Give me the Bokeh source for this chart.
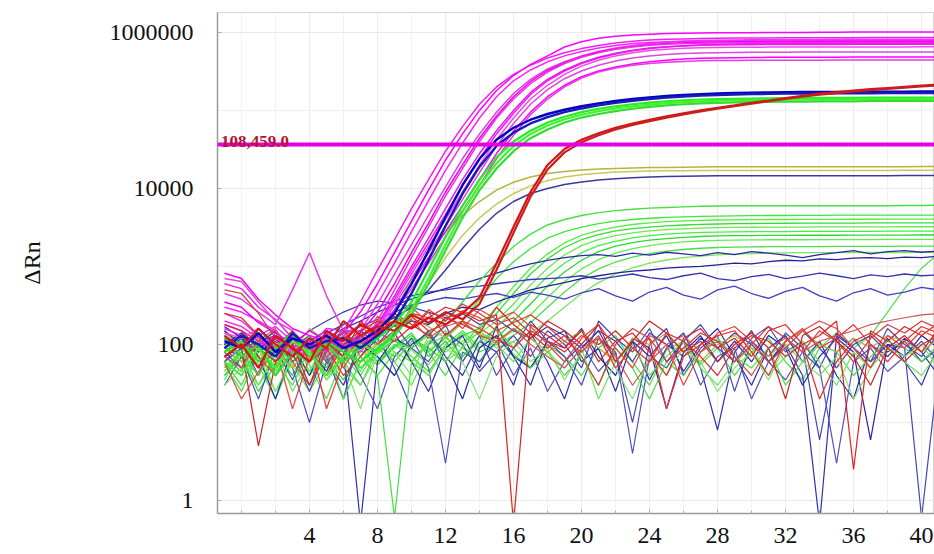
from bokeh.plotting import figure
from bokeh.models import Range1d, FixedTicker, NumeralTickFormatter, Label, Span
from bokeh.embed import file_html
from bokeh.resources import INLINE

# ---------------- data ----------------
cycles = list(range(-1, 42))          # cycle numbers of every point
x_tick_values = [4, 8, 12, 16, 20, 24, 28, 32, 36, 40]
x_minor_ticks = [0, 2, 4, 6, 8, 10, 12, 14, 16, 18, 20, 22, 24, 26, 28, 30, 32, 34, 36, 38, 40]
y_tick_values = [1, 100, 10000, 1000000]
y_minor_ticks = [10, 1000, 100000]
threshold_level = 36600
threshold_text = "108,459.0"
y_axis_title = "\u0394Rn"

magenta_curves = [
    [820, 700, 380, 240, 160, 130, 110, 140, 260, 600,
     1500, 3800, 9500, 23000, 50000, 100000, 180000, 280000, 390000, 500000,
     650000, 760000, 840000, 890000, 925000, 950000, 965000, 975000, 982000, 987000,
     990000, 993000, 995000, 1000000, 1000000, 1005000, 1005000, 1010000, 1010000, 1010000,
     1015000, 1015000, 1015000],
    [600, 520, 300, 210, 120, 95, 160, 150, 350, 900,
     2200, 5500, 13000, 30000, 62000, 120000, 200000, 290000, 380000, 470000,
     550000, 620000, 680000, 730000, 770000, 800000, 815000, 825000, 835000, 840000,
     845000, 848000, 850000, 852000, 853000, 855000, 856000, 857000, 858000, 858000,
     860000, 860000, 860000],
    [450, 380, 260, 180, 500, 1500, 420, 150, 150, 330,
     800, 1900, 4500, 10500, 24000, 50000, 95000, 165000, 250000, 340000,
     420000, 500000, 570000, 630000, 680000, 720000, 750000, 770000, 785000, 795000,
     800000, 805000, 808000, 810000, 812000, 814000, 815000, 816000, 817000, 818000,
     818000, 819000, 820000],
    [300, 260, 200, 150, 90, 120, 80, 130, 180, 450,
     1100, 2800, 7000, 17000, 38000, 80000, 150000, 240000, 330000, 420000,
     500000, 570000, 630000, 680000, 720000, 745000, 760000, 770000, 775000, 778000,
     780000, 780000, 780000, 780000, 780000, 780000, 781000, 781000, 781000, 782000,
     782000, 782000, 783000],
    [350, 300, 190, 140, 100, 150, 110, 90, 140, 260,
     600, 1500, 3600, 9000, 20000, 44000, 85000, 150000, 235000, 325000,
     410000, 490000, 560000, 615000, 660000, 695000, 720000, 738000, 748000, 754000,
     757000, 759000, 760000, 761000, 762000, 762000, 763000, 763000, 764000, 764000,
     764000, 765000, 765000],
    [250, 200, 130, 170, 110, 70, 140, 100, 90, 200,
     500, 1300, 3200, 8000, 18000, 40000, 80000, 140000, 220000, 310000,
     400000, 480000, 550000, 610000, 650000, 685000, 705000, 720000, 728000, 734000,
     737000, 739000, 740000, 741000, 742000, 742000, 743000, 743000, 744000, 744000,
     745000, 745000, 745000],
    [160, 130, 100, 120, 85, 70, 100, 120, 100, 170,
     380, 900, 2000, 4600, 11000, 24000, 50000, 92000, 160000, 240000,
     320000, 400000, 470000, 530000, 580000, 620000, 650000, 675000, 692000, 703000,
     710000, 714000, 717000, 719000, 720000, 721000, 722000, 722000, 723000, 723000,
     724000, 724000, 724000],
    [180, 150, 110, 90, 130, 100, 60, 90, 120, 180,
     420, 1000, 2300, 5500, 13000, 28000, 55000, 100000, 170000, 250000,
     330000, 410000, 480000, 540000, 590000, 630000, 655000, 672000, 683000, 690000,
     694000, 697000, 699000, 700000, 701000, 702000, 702000, 703000, 703000, 704000,
     704000, 705000, 705000],
    [140, 120, 160, 100, 80, 110, 90, 70, 100, 160,
     350, 800, 1800, 4000, 9000, 20000, 42000, 80000, 140000, 210000,
     290000, 370000, 440000, 500000, 550000, 585000, 610000, 625000, 635000, 641000,
     645000, 647000, 648000, 649000, 650000, 650000, 651000, 651000, 652000, 652000,
     652000, 653000, 653000],
    [700, 640, 350, 200, 150, 90, 120, 100, 80, 150,
     320, 700, 1500, 3300, 7200, 16000, 35000, 68000, 120000, 185000,
     255000, 320000, 380000, 430000, 470000, 500000, 520000, 535000, 545000, 550000,
     553000, 555000, 557000, 558000, 559000, 560000, 560000, 561000, 561000, 562000,
     562000, 562000, 563000],
    [120, 100, 90, 130, 70, 100, 85, 120, 95, 140,
     280, 600, 1300, 2800, 6000, 13000, 28000, 54000, 95000, 150000,
     210000, 270000, 320000, 360000, 395000, 420000, 440000, 455000, 465000, 470000,
     474000, 477000, 479000, 480000, 481000, 482000, 482000, 483000, 483000, 484000,
     484000, 484000, 485000],
    [200, 170, 120, 80, 110, 95, 70, 100, 90, 150,
     260, 520, 1100, 2400, 5200, 11000, 24000, 48000, 88000, 140000,
     200000, 260000, 310000, 350000, 380000, 400000, 415000, 425000, 432000, 436000,
     438000, 439000, 440000, 440000, 441000, 441000, 442000, 442000, 442000, 443000,
     443000, 443000, 443000],
]
magenta_colors = ["#ff00ff", "#f020f0", "#e63ce6", "#ff22ff", "#f000f0", "#ea30ea",
                  "#ff10ff", "#e020e0", "#f544f5", "#d84cd8", "#ff00ff", "#e838e8"]

blue_bold_curves = [
    [110, 90, 140, 80, 120, 100, 130, 90, 110, 150,
     250, 600, 1600, 4300, 11000, 24000, 42000, 60000, 76000, 90000,
     102000, 113000, 123000, 132000, 140000, 147000, 153000, 158000, 162000, 165000,
     167000, 169000, 170000, 171000, 172000, 172000, 173000, 173000, 174000, 174000,
     174000, 175000, 175000],
    [90, 130, 100, 70, 140, 90, 110, 120, 90, 130,
     200, 450, 1200, 3300, 8500, 19000, 35000, 52000, 68000, 82000,
     95000, 106000, 116000, 125000, 133000, 140000, 146000, 151000, 155000, 158000,
     160000, 162000, 163000, 164000, 165000, 165000, 166000, 166000, 166000, 167000,
     167000, 167000, 167000],
]

green_high_curves = [
    [80, 110, 60, 90, 140, 70, 100, 60, 90, 120,
     180, 350, 900, 2400, 6000, 13000, 25000, 40000, 55000, 70000,
     83000, 95000, 105000, 113000, 120000, 126000, 131000, 135000, 138000, 140000,
     141000, 142000, 143000, 144000, 144000, 145000, 145000, 145000, 146000, 146000,
     146000, 146000, 146000],
    [60, 40, 90, 50, 110, 80, 40, 70, 100, 80,
     150, 280, 700, 1900, 5000, 11000, 21000, 35000, 50000, 64000,
     77000, 88000, 98000, 106000, 113000, 119000, 124000, 128000, 131000, 133000,
     135000, 136000, 137000, 137000, 138000, 138000, 138000, 139000, 139000, 139000,
     139000, 140000, 140000],
    [120, 70, 100, 40, 80, 60, 110, 80, 60, 90,
     130, 240, 600, 1600, 4200, 9500, 18000, 30000, 44000, 57000,
     70000, 81000, 90000, 98000, 105000, 111000, 116000, 120000, 123000, 125000,
     127000, 128000, 129000, 130000, 130000, 131000, 131000, 131000, 132000, 132000,
     132000, 132000, 132000],
]

red_bold_curves = [
    [70, 100, 50, 130, 90, 60, 150, 110, 180, 140,
     200, 160, 220, 180, 250, 400, 1100, 3200, 9000, 20000,
     32000, 42000, 51000, 60000, 68000, 76000, 84000, 92000, 100000, 108000,
     116000, 125000, 134000, 144000, 154000, 164000, 172000, 180000, 187000, 194000,
     201000, 208000, 215000],
    [130, 90, 160, 100, 70, 120, 90, 200, 130, 170,
     150, 240, 190, 260, 210, 330, 900, 2700, 7800, 17500,
     29000, 39000, 48000, 57000, 65000, 73000, 81000, 89000, 97000, 105000,
     113000, 122000, 131000, 140000, 150000, 159000, 167000, 175000, 182000, 189000,
     196000, 203000, 209000],
]

olive_curves = [
    [90, 60, 120, 80, 50, 100, 70, 130, 90, 150,
     250, 700, 1500, 2800, 4500, 6800, 9500, 12000, 14000, 15500,
     16500, 17200, 17700, 18000, 18300, 18500, 18600, 18700, 18800, 18900,
     19000, 19000, 19000, 19000, 19000, 19000, 19000, 19000, 19000, 19000,
     19000, 19100, 19100],
    [70, 110, 60, 100, 130, 60, 90, 110, 70, 100,
     130, 250, 600, 1300, 2500, 4200, 6300, 8600, 10800, 12600,
     14000, 15000, 15700, 16200, 16500, 16700, 16800, 16900, 17000, 17000,
     17000, 17000, 17000, 17000, 17000, 17000, 17000, 17000, 17000, 17000,
     17100, 17100, 17100],
]

dark_blue_curve = [100, 140, 90, 120, 70, 110, 150, 100, 130, 180,
                   220, 300, 500, 900, 1700, 3000, 4800, 6800, 8600, 10000,
                   11200, 12100, 12800, 13300, 13700, 14000, 14200, 14300, 14400, 14500,
                   14500, 14500, 14500, 14500, 14500, 14500, 14500, 14500, 14500, 14500,
                   14600, 14600, 14600]

green_mid_curve = [50, 80, 40, 100, 70, 130, 60, 90, 50, 80,
                   110, 90, 140, 200, 350, 650, 1100, 1800, 2600, 3400,
                   4000, 4500, 4900, 5200, 5400, 5600, 5700, 5800, 5900, 5950,
                   6000, 6000, 6000, 6000, 6000, 6000, 6000, 6000, 6000, 6000,
                   6050, 6050, 6100]

green_low_curves = [
    [60, 30, 90, 45, 120, 80, 35, 70, 110, 60,
     90, 130, 80, 120, 200, 380, 700, 1150, 1700, 2300,
     2800, 3200, 3550, 3800, 4000, 4150, 4250, 4320, 4380, 4420,
     4450, 4480, 4500, 4500, 4520, 4520, 4540, 4540, 4550, 4550,
     4560, 4560, 4560],
    [100, 50, 70, 25, 60, 100, 50, 130, 70, 40,
     80, 60, 110, 150, 100, 170, 300, 550, 950, 1450,
     2000, 2500, 2900, 3200, 3450, 3620, 3750, 3840, 3900, 3940,
     3960, 3980, 4000, 4000, 4010, 4020, 4020, 4030, 4030, 4040,
     4040, 4040, 4040],
    [40, 70, 25, 55, 90, 40, 80, 20, 60, 100,
     70, 120, 90, 60, 130, 160, 250, 450, 800, 1250,
     1750, 2200, 2550, 2850, 3050, 3200, 3320, 3400, 3460, 3500,
     3530, 3550, 3570, 3580, 3590, 3600, 3600, 3600, 3610, 3610,
     3610, 3620, 3620],
    [130, 60, 100, 45, 75, 30, 90, 140, 50, 70,
     40, 90, 130, 80, 110, 140, 200, 330, 580, 950,
     1400, 1850, 2200, 2480, 2700, 2850, 2960, 3040, 3100, 3140,
     3160, 3180, 3190, 3200, 3200, 3210, 3210, 3220, 3220, 3220,
     3230, 3230, 3230],
    [35, 90, 55, 20, 70, 45, 110, 60, 30, 90,
     120, 60, 40, 100, 150, 90, 170, 260, 450, 750,
     1100, 1500, 1850, 2100, 2320, 2480, 2600, 2680, 2730, 2760,
     2780, 2790, 2800, 2800, 2810, 2810, 2820, 2820, 2820, 2830,
     2830, 2830, 2830],
    [70, 45, 130, 80, 40, 100, 65, 35, 85, 55,
     95, 140, 70, 110, 60, 130, 120, 200, 330, 560,
     850, 1200, 1550, 1820, 2020, 2170, 2280, 2360, 2420, 2460,
     2480, 2490, 2500, 2500, 2510, 2510, 2510, 2520, 2520, 2520,
     2520, 2530, 2530],
    [90, 130, 70, 100, 55, 25, 60, 95, 45, 110,
     60, 30, 85, 120, 90, 60, 110, 150, 240, 400,
     640, 930, 1220, 1480, 1690, 1850, 1970, 2060, 2120, 2160,
     2180, 2190, 2200, 2200, 2200, 2210, 2210, 2210, 2210, 2220,
     2220, 2220, 2220],
    [55, 25, 80, 120, 60, 90, 40, 75, 120, 60,
     100, 70, 45, 90, 140, 80, 100, 130, 190, 300,
     470, 700, 930, 1140, 1320, 1460, 1570, 1650, 1710, 1750,
     1770, 1780, 1790, 1800, 1800, 1800, 1810, 1810, 1810, 1810,
     1820, 1820, 1820],
    [110, 70, 40, 90, 25, 60, 100, 50, 30, 75,
     120, 85, 55, 100, 70, 130, 90, 110, 140, 200,
     300, 450, 620, 800, 960, 1100, 1210, 1300, 1360, 1410,
     1440, 1460, 1480, 1490, 1500, 1500, 1500, 1510, 1510, 1510,
     1510, 1520, 1520],
    [45, 80, 30, 65, 100, 55, 20, 70, 40, 90,
     60, 110, 80, 40, 95, 60, 130, 75, 50, 100,
     70, 40, 90, 130, 60, 30, 85, 110, 55, 90,
     40, 80, 120, 60, 35, 90, 140, 90, 130, 260,
     520, 950, 1450],
]
green_low_colors = ["#3be83b", "#52ee3e", "#33dd33", "#6ae84e", "#44ee44",
                    "#2fd82f", "#5ef04a", "#48e048", "#7ae25c", "#55e055"]

blue_plateau_curves = [
    [80, 120, 60, 100, 140, 90, 120, 160, 200, 260,
     320, 380, 450, 520, 600, 700, 820, 950, 1080, 1200,
     1300, 1380, 1420, 1350, 1480, 1400, 1520, 1450, 1380, 1500,
     1420, 1550, 1480, 1400, 1300, 1420, 1500, 1600, 1450, 1550,
     1600, 1520, 1580],
    [150, 100, 130, 70, 110, 90, 140, 180, 230, 300,
     360, 420, 470, 500, 540, 560, 600, 640, 680, 700,
     720, 760, 690, 740, 800, 720, 680, 760, 820, 700,
     660, 740, 790, 700, 750, 820, 760, 700, 780, 740,
     800, 760, 780],
    [60, 90, 130, 80, 110, 70, 100, 140, 170, 210,
     260, 320, 360, 400, 380, 420, 450, 400, 470, 430,
     380, 460, 520, 420, 360, 470, 540, 430, 380, 500,
     560, 450, 390, 480, 540, 420, 360, 460, 520, 430,
     470, 540, 500],
    [120, 70, 100, 150, 90, 60, 110, 80, 130, 100,
     150, 200, 180, 250, 300, 280, 350, 420, 500, 560,
     620, 700, 760, 820, 870, 900, 950, 980, 1000, 1050,
     1100, 1080, 1150, 1200, 1180, 1250, 1220, 1280, 1300, 1260,
     1320, 1300, 1350],
]
blue_plateau_colors = ["#2a2aa8", "#3535b5", "#4040c0", "#22229a"]

red_noise_curves = [
    [180, 150, 90, 60, 120, 80, 40, 100, 150, 200,
     170, 250, 220, 300, 260, 200, 240, 0.5, 180, 130,
     90, 150, 60, 110, 140, 80, 40, 120, 160, 90,
     120, 70, 150, 180, 100, 130, 200, 2.5, 150, 110,
     170, 130, 190],
    [500, 450, 250, 120, 60, 30, 80, 150, 90, 180,
     230, 160, 280, 200, 330, 250, 180, 220, 140, 90,
     130, 70, 30, 100, 160, 120, 60, 90, 140, 110,
     60, 100, 170, 120, 80, 150, 110, 60, 120, 180,
     140, 200, 160],
    [60, 20, 45, 90, 15, 70, 130, 50, 110, 230,
     140, 300, 190, 240, 160, 280, 210, 260, 170, 100,
     60, 120, 180, 90, 50, 130, 100, 30, 80, 140,
     170, 110, 60, 90, 150, 200, 160, 90, 50, 130,
     90, 150, 120],
    [120, 90, 5, 60, 100, 30, 110, 70, 200, 120,
     250, 180, 130, 220, 180, 140, 300, 180, 120, 200,
     150, 100, 180, 60, 110, 200, 140, 80, 110, 60,
     100, 140, 90, 20, 130, 170, 110, 70, 30, 90,
     130, 80, 160],
    [90, 130, 70, 40, 80, 120, 15, 60, 130, 170,
     200, 230, 150, 180, 270, 220, 150, 190, 240, 170,
     110, 80, 130, 50, 90, 120, 15, 70, 100, 130,
     150, 80, 40, 110, 160, 90, 120, 180, 100, 60,
     110, 170, 140],
    [70, 50, 110, 160, 60, 90, 40, 120, 180, 100,
     150, 210, 120, 170, 200, 130, 110, 160, 100, 70,
     50, 90, 120, 70, 30, 60, 100, 130, 80, 110,
     70, 40, 90, 120, 80, 110, 130, 150, 180, 200,
     220, 240, 250],
    [250, 220, 130, 90, 150, 60, 90, 40, 70, 140,
     110, 170, 260, 130, 200, 160, 120, 90, 150, 110,
     80, 130, 100, 150, 90, 60, 140, 110, 70, 40,
     90, 130, 110, 70, 100, 20, 60, 110, 140, 90,
     60, 100, 130],
]
red_noise_colors = ["#e02020", "#d43a3a", "#e84040", "#cc2222", "#f03030", "#d05050", "#e02a2a"]

blue_noise_curves = [
    [150, 90, 130, 60, 100, 40, 120, 80, 0.5, 60,
     120, 90, 150, 70, 40, 110, 80, 30, 140, 60,
     20, 90, 150, 60, 110, 35, 90, 140, 50, 8,
     80, 150, 60, 100, 40, 0.5, 130, 90, 50, 120,
     60, 30, 100],
    [60, 110, 40, 150, 80, 25, 90, 160, 70, 120,
     50, 15, 100, 180, 60, 130, 40, 90, 200, 110,
     70, 30, 120, 80, 10, 100, 160, 40, 90, 130,
     25, 110, 70, 140, 90, 6, 80, 120, 60, 100,
     90, 0.6, 50],
    [100, 140, 70, 20, 90, 130, 60, 30, 110, 80,
     140, 60, 25, 90, 130, 50, 170, 70, 30, 120,
     150, 60, 90, 25, 110, 70, 130, 45, 100, 160,
     70, 30, 90, 130, 60, 110, 40, 20, 100, 70,
     120, 80, 40],
    [30, 70, 20, 90, 50, 10, 60, 100, 40, 15,
     70, 120, 50, 3, 80, 60, 110, 40, 90, 25,
     60, 100, 45, 80, 4, 70, 50, 110, 30, 70,
     90, 20, 60, 35, 80, 50, 3, 60, 90, 45,
     70, 110, 60],
    [90, 70, 110, 130, 100, 150, 200, 260, 320, 360,
     340, 300, 260, 220, 250, 180, 210, 150, 120, 170,
     130, 90, 150, 110, 60, 140, 100, 70, 120, 90,
     140, 100, 60, 110, 150, 90, 50, 100, 130, 80,
     110, 60, 90],
    [170, 120, 80, 110, 60, 90, 45, 130, 100, 70,
     40, 100, 140, 60, 20, 90, 130, 70, 50, 110,
     90, 160, 70, 40, 120, 90, 15, 80, 130, 60,
     110, 60, 130, 90, 30, 70, 120, 80, 6, 100,
     70, 130, 90],
    [80, 50, 160, 90, 35, 110, 70, 20, 150, 100,
     180, 90, 60, 140, 100, 45, 80, 130, 70, 150,
     100, 50, 200, 120, 80, 160, 60, 110, 180, 90,
     60, 120, 170, 80, 110, 50, 140, 90, 60, 160,
     100, 70, 140],
]
blue_noise_colors = ["#3030b0", "#4646bb", "#2c2ca0", "#5050c0", "#3a3aaa", "#2424a8", "#4a4ab4"]

green_noise_curves = [
    [40, 80, 110, 60, 30, 90, 50, 120, 70, 40,
     0.6, 60, 100, 130, 70, 110, 160, 90, 50, 80,
     40, 70, 30, 90, 50, 20, 60, 40, 80, 120,
     70, 50, 90, 30, 60, 100, 80, 40, 70, 110,
     90, 60, 100],
    [120, 60, 30, 80, 140, 45, 90, 20, 60, 110,
     80, 40, 130, 60, 90, 150, 100, 60, 120, 80,
     50, 90, 20, 60, 100, 40, 70, 110, 50, 30,
     60, 90, 40, 70, 110, 60, 30, 80, 50, 90,
     60, 40, 80],
    [30, 50, 90, 25, 70, 110, 35, 60, 15, 80,
     120, 70, 40, 90, 60, 20, 70, 110, 60, 90,
     35, 80, 120, 50, 20, 70, 40, 90, 60, 25,
     50, 80, 35, 100, 60, 40, 70, 20, 50, 90,
     70, 100, 50],
]
green_noise_colors = ["#44dd44", "#66e855", "#88e070"]

olive_noise_curve = [140, 100, 60, 120, 80, 160, 110, 70, 130, 180,
                     150, 220, 170, 120, 190, 140, 100, 160, 120, 80,
                     110, 150, 90, 60, 120, 100, 140, 80, 60, 100,
                     130, 90, 70, 110, 150, 100, 80, 120, 90, 130,
                     110, 80, 120]

# ---------------- figure ----------------
p = figure(width=934, height=554, y_axis_type="log",
           x_range=Range1d(-1.41, 40.76), y_range=Range1d(0.681, 1.80e6),
           output_backend="svg", toolbar_location=None,
           min_border_left=217, min_border_right=0, min_border_top=12, min_border_bottom=41,
           background_fill_color="white", border_fill_color="white")
p.outline_line_color = "#d4d4d4"


def draw(vals, color, width, alpha=1.0):
    xs = cycles[:len(vals)]
    p.line(xs, vals[:len(xs)], line_color=color, line_width=width, line_alpha=alpha)


for i, c in enumerate(green_low_curves):
    draw(c, green_low_colors[i % len(green_low_colors)], 1.3)
for i, c in enumerate(blue_plateau_curves):
    draw(c, blue_plateau_colors[i % len(blue_plateau_colors)], 1.3)
for i, c in enumerate(blue_noise_curves):
    draw(c, blue_noise_colors[i % len(blue_noise_colors)], 1.2)
for i, c in enumerate(green_noise_curves):
    draw(c, green_noise_colors[i % len(green_noise_colors)], 1.2)
draw(olive_noise_curve, "#b0b040", 1.2)
draw(green_mid_curve, "#44e044", 1.4)
for i, c in enumerate(olive_curves):
    draw(c, ["#b5b53a", "#c8c860"][i % 2], 1.5)
draw(dark_blue_curve, "#3a3a9e", 1.5)
for i, c in enumerate(magenta_curves):
    draw(c, magenta_colors[i % len(magenta_colors)], 1.5)
for i, c in enumerate(red_noise_curves):
    draw(c, red_noise_colors[i % len(red_noise_colors)], 1.2)
for i, c in enumerate(green_high_curves):
    draw(c, ["#22ee22", "#44f030", "#30dd30"][i % 3], 2.2)
for i, c in enumerate(blue_bold_curves):
    draw(c, ["#0000c8", "#1a1ab4"][i % 2], 2.4)
for i, c in enumerate(red_bold_curves):
    draw(c, ["#dd1111", "#c82020"][i % 2], 2.2)

p.add_layout(Span(location=threshold_level, dimension="width",
                  line_color="#e400e4", line_width=4))
p.add_layout(Label(x=-1.2, y=threshold_level, y_offset=3, text=threshold_text,
                   text_font="Liberation Serif", text_font_style="bold",
                   text_font_size="17px", text_color="#b5122e",
                   text_baseline="alphabetic", text_align="left"))

# axes
p.xaxis.ticker = FixedTicker(ticks=x_tick_values, minor_ticks=x_minor_ticks)
p.yaxis.ticker = FixedTicker(ticks=y_tick_values, minor_ticks=y_minor_ticks)
p.yaxis.formatter = NumeralTickFormatter(format="0")
p.yaxis.axis_label = y_axis_title
p.yaxis.axis_label_text_font = "Liberation Serif"
p.yaxis.axis_label_text_font_size = "24px"
p.yaxis.axis_label_text_font_style = "normal"
p.yaxis.axis_label_text_color = "#111111"
p.yaxis.axis_label_standoff = 62
for ax in (p.xaxis[0], p.yaxis[0]):
    ax.axis_line_color = "#9a9a9a"
    ax.axis_line_width = 1.5
    ax.major_tick_in = 4
    ax.major_tick_out = 0
    ax.major_tick_line_color = "#aaaaaa"
    ax.major_label_text_font = "Liberation Serif"
    ax.major_label_text_font_size = "24px"
    ax.major_label_text_color = "#111111"
p.xaxis.minor_tick_in = 3
p.xaxis.minor_tick_out = 0
p.xaxis.minor_tick_line_color = "#b0b0b0"
p.yaxis.minor_tick_line_color = None
p.xaxis.major_label_standoff = 14
p.yaxis.major_label_standoff = 20

p.xgrid.grid_line_color = "#ececec"
p.xgrid.minor_grid_line_color = "#f2f2f2"
p.ygrid.grid_line_color = "#e8e8e8"
p.ygrid.minor_grid_line_color = "#efefef"

open("out.html", "w").write(file_html(p, INLINE))
